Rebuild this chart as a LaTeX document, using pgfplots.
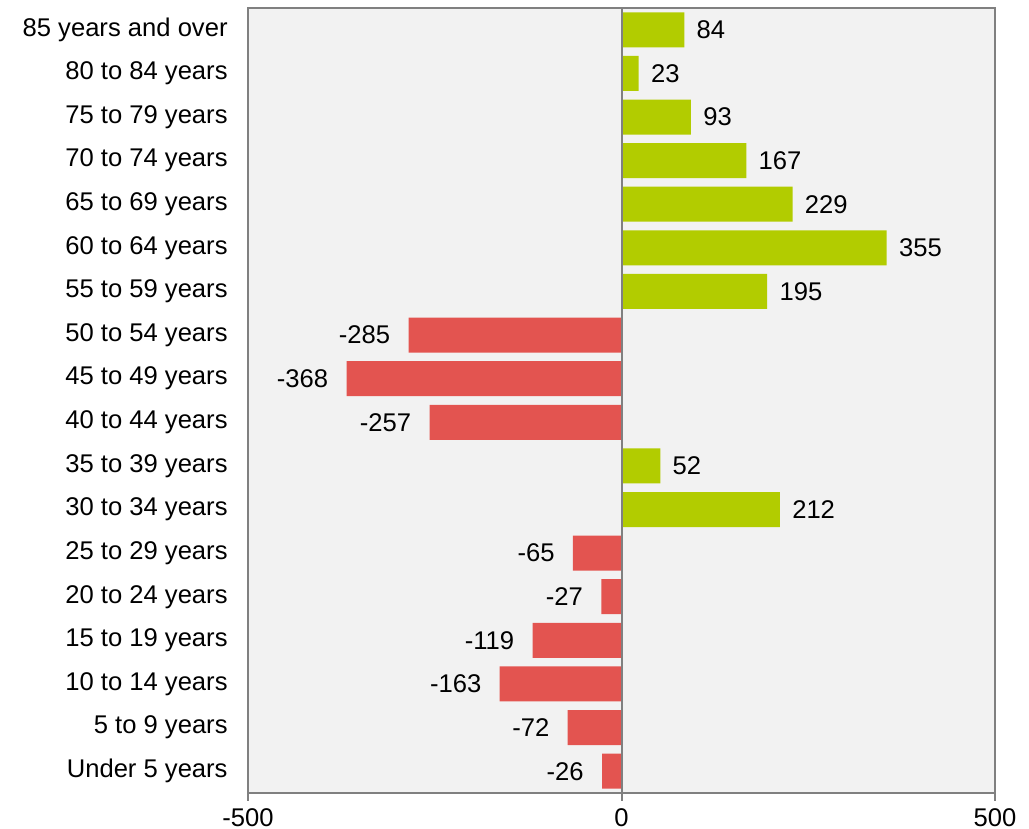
\documentclass[border=0pt]{standalone}
\usepackage{fontspec}
\setmainfont{Liberation Sans}
\usepackage{pgfplots}
\pgfplotsset{compat=1.18}
\definecolor{bargreen}{RGB}{178,204,0}
\definecolor{barred}{RGB}{227,84,80}
\definecolor{axgray}{RGB}{128,128,128}
\definecolor{bggray}{RGB}{242,242,242}
\begin{document}
\begin{tikzpicture}
\path[use as bounding box] (-124pt,-18pt) rectangle (390.5pt,396.5pt);
\begin{axis}[
  at={(0,0)}, anchor=south west,
  scale only axis, width=373.5pt, height=392.5pt,
  xbar, bar width=17.5pt, bar shift=0pt,
  xmin=-500, xmax=500, ymin=-0.5, ymax=17.5,
  xtick={-500,0,500}, ytick={0,...,17},
  yticklabels={Under 5 years,5 to 9 years,10 to 14 years,15 to 19 years,20 to 24 years,25 to 29 years,30 to 34 years,35 to 39 years,40 to 44 years,45 to 49 years,50 to 54 years,55 to 59 years,60 to 64 years,65 to 69 years,70 to 74 years,75 to 79 years,80 to 84 years,85 years and over},
  /pgf/number format/assume math mode=true,
  font=\fontsize{12.8}{15}\selectfont,
  ticklabel style={font=\fontsize{12.8}{15}\selectfont},
  axis background/.style={fill=bggray},
  axis line style={axgray, line width=1pt},
  xtick pos=lower, xtick align=outside,
  major tick length=4pt,
  x tick style={axgray, line width=1pt},
  y tick style={draw=none},
  yticklabel style={inner sep=0pt, xshift=-6pt},
  xticklabel style={inner sep=0pt, yshift=-3.5pt},
  nodes near coords,
]
\addplot[fill=bargreen, draw=none, nodes near coords style={anchor=west, inner sep=0pt, xshift=6pt, font=\fontsize{12.8}{15}\selectfont}]
  coordinates {(212,6) (52,7) (195,11) (355,12) (229,13) (167,14) (93,15) (23,16) (84,17)};
\addplot[fill=barred, draw=none, nodes near coords style={anchor=east, inner sep=0pt, xshift=-9pt, font=\fontsize{12.8}{15}\selectfont}]
  coordinates {(-26,0) (-72,1) (-163,2) (-119,3) (-27,4) (-65,5) (-257,8) (-368,9) (-285,10)};
\draw[axgray, line width=1pt] (axis cs:0,-0.5) -- (axis cs:0,17.5);
\end{axis}
\end{tikzpicture}
\end{document}
